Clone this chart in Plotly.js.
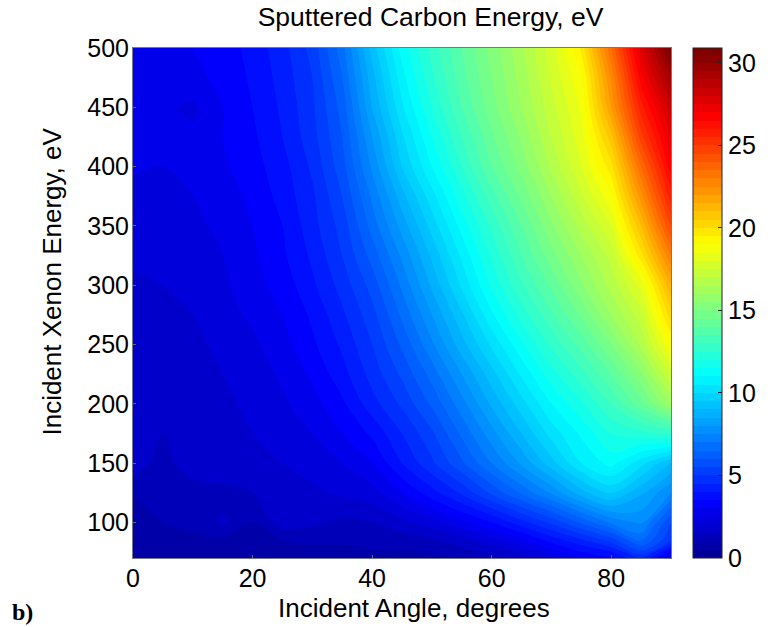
<!DOCTYPE html>
<html>
<head>
<meta charset="utf-8">
<script src="https://cdn.plot.ly/plotly-3.0.1.min.js"></script>
<style>html,body{margin:0;padding:0;background:#fff}</style>
</head>
<body>
<div id="chart" style="width:771px;height:627px"></div>
<script>
var angles = [0,5,10,15,20,25,30,35,40,45,50,55,60,65,70,75,80,85,90];
var energies = [70,85,100,125,150,175,200,225,250,275,300,325,350,375,400,425,450,475,500];
var e070 = [0.8,0.8,0.7,0.7,0.7,0.7,0.7,0.7,0.8,0.8,0.9,1.0,1.3,1.7,2.3,3.0,3.4,4.6,2.4];
var e085 = [0.9,0.9,0.9,0.9,1.0,1.0,1.1,1.1,1.2,1.2,1.4,1.8,2.3,2.9,3.7,4.4,5.2,6.6,5.0];
var e100 = [1.0,1.0,1.1,1.6,1.0,1.8,1.6,1.4,1.5,1.9,2.3,2.9,3.5,4.3,5.1,6.1,7.1,7.6,5.5];
var e125 = [1.0,1.1,1.1,1.3,1.5,1.7,1.9,2.1,2.3,3.0,3.8,4.6,5.6,6.6,7.6,8.8,9.6,8.6,7.5];
var e150 = [1.9,1.2,2.0,2.0,1.7,2.0,2.2,2.5,3.0,4.0,4.9,5.9,7.0,8.1,9.3,10.5,11.2,10.2,9.0];
var e175 = [1.7,1.5,1.8,1.9,2.0,2.3,2.5,3.0,3.6,4.5,5.4,6.6,7.8,9.0,10.2,11.1,12.0,12.3,12.6];
var e200 = [1.8,1.8,1.8,1.9,2.1,2.4,2.8,3.4,4.3,5.1,6.1,7.3,8.6,9.8,11.0,11.9,13.0,14.3,16.0];
var e225 = [1.8,1.7,1.9,2.0,2.2,2.6,3.1,3.8,4.7,5.6,6.7,8.0,9.3,10.6,11.8,12.8,14.0,15.4,17.5];
var e250 = [1.7,1.8,1.9,2.1,2.4,2.8,3.4,4.1,5.0,6.1,7.4,8.8,10.1,11.4,12.6,13.7,15.0,16.6,19.0];
var e275 = [1.9,2.0,2.0,2.3,2.6,3.0,3.6,4.4,5.3,6.6,8.0,9.4,10.9,12.2,13.4,14.6,16.0,17.3,20.3];
var e300 = [1.9,2.0,2.2,2.4,2.8,3.2,3.9,4.7,5.7,7.1,8.6,10.1,11.6,12.9,14.1,15.4,16.7,18.2,21.5];
var e325 = [2.1,2.1,2.3,2.5,2.9,3.4,4.1,5.0,6.2,7.6,9.1,10.6,12.1,13.5,14.8,16.0,17.2,19.8,23.0];
var e350 = [2.0,2.2,2.4,2.6,3.0,3.5,4.3,5.2,6.7,8.2,9.7,11.2,12.6,14.0,15.4,16.7,18.0,21.0,24.6];
var e375 = [2.3,2.4,2.5,2.8,3.1,3.7,4.4,5.5,7.1,8.8,10.3,11.8,13.3,14.6,16.0,17.4,18.9,22.3,25.8];
var e400 = [2.6,2.5,2.6,2.9,3.3,3.8,4.6,5.8,7.6,9.5,11.0,12.5,14.0,15.2,16.6,18.0,19.8,23.5,26.8];
var e425 = [2.6,2.7,2.6,3.0,3.4,4.0,4.8,6.0,8.0,9.9,11.5,13.0,14.4,15.6,17.0,18.3,20.8,24.8,27.5];
var e450 = [2.5,2.6,2.4,3.0,3.5,4.1,4.9,6.2,8.5,10.4,12.0,13.5,14.8,16.0,17.3,18.6,22.0,25.8,28.3];
var e475 = [2.7,2.8,2.9,3.1,3.6,4.2,5.0,6.5,8.8,10.8,12.4,13.8,15.0,16.2,17.6,18.9,22.6,26.8,29.5];
var e500 = [2.8,2.8,3.0,3.2,3.7,4.3,5.2,6.8,9.2,11.2,12.7,14.0,15.2,16.4,17.8,19.6,23.5,27.7,30.9];
var zRows = [e070,e085,e100,e125,e150,e175,e200,e225,e250,e275,e300,e325,e350,e375,e400,e425,e450,e475,e500];
var xTicks = [0,20,40,60,80];
var yTicks = [100,150,200,250,300,350,400,450,500];
var cbTicks = [0,5,10,15,20,25,30];
var jet = [[0,'#000090'],[0.11,'#0000ff'],[0.365,'#00ffff'],[0.625,'#ffff00'],[0.875,'#ff0000'],[1,'#800000']];
var font = 'Liberation Sans, Arial, sans-serif';

Plotly.newPlot('chart', [{
  type: 'contour',
  x: angles, y: energies, z: zRows,
  colorscale: jet, zmin: 0, zmax: 30.9, autocontour: false,
  contours: {coloring: 'fill', showlines: false, start: 0, end: 30.9, size: 0.5},
  line: {width: 0},
  colorbar: {
    x: 1.041, xanchor: 'left', xpad: 0, y: 0.5, yanchor: 'middle', ypad: 0,
    len: 1, lenmode: 'fraction', thickness: 29, thicknessmode: 'pixels',
    outlinecolor: '#222', outlinewidth: 1,
    tickmode: 'array', tickvals: cbTicks, ticktext: cbTicks.map(String),
    ticks: 'inside', ticklen: 4, tickcolor: '#222',
    tickfont: {family: font, size: 25, color: '#000'}
  }
}], {
  width: 771, height: 627,
  margin: {l: 133, r: 100, t: 48, b: 69, pad: 0, autoexpand: false},
  paper_bgcolor: '#fff', plot_bgcolor: '#fff',
  title: {text: 'Sputtered Carbon Energy, eV', font: {family: font, size: 26.5, color: '#000'},
          x: 0.5584, xanchor: 'center', y: 0.988, yanchor: 'top'},
  xaxis: {range: [0, 90], tickmode: 'array', tickvals: xTicks, ticks: 'inside', ticklen: 3, ticklabelstandoff: -2,
          tickcolor: '#666', showgrid: false, zeroline: false, showline: true, linecolor: '#778', linewidth: 1, mirror: true,
          tickfont: {family: font, size: 25, color: '#000'}},
  yaxis: {range: [70, 500], tickmode: 'array', tickvals: yTicks, ticks: 'inside', ticklen: 3, ticklabelstandoff: -2,
          tickcolor: '#666', showgrid: false, zeroline: false, showline: true, linecolor: '#778', linewidth: 1, mirror: true,
          tickfont: {family: font, size: 25, color: '#000'}},
  annotations: [
    {text: 'Incident Angle, degrees', xref: 'paper', yref: 'paper', x: 0.5223, y: -0.098, xanchor: 'center', yanchor: 'middle',
     showarrow: false, font: {family: font, size: 26, color: '#000'}},
    {text: 'Incident Xenon Energy, eV', xref: 'paper', yref: 'paper', x: -0.1506, y: 0.542, xanchor: 'center', yanchor: 'middle',
     textangle: -90, showarrow: false, font: {family: font, size: 26, color: '#000'}},
    {text: '<b>b)</b>', xref: 'paper', yref: 'paper', x: -0.2286, y: -0.106, xanchor: 'left', yanchor: 'middle',
     showarrow: false, font: {family: 'Liberation Serif, serif', size: 24, color: '#000'}}
  ]
}, {displayModeBar: false, staticPlot: true});
</script>
</body>
</html>
